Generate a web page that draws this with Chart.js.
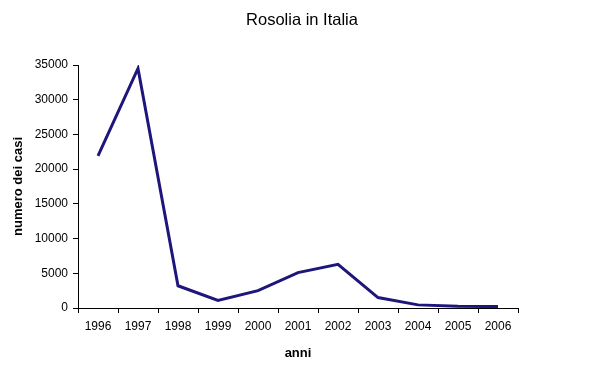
<!DOCTYPE html>
<html>
<head>
<meta charset="utf-8">
<style>
  html, body { margin: 0; padding: 0; background: #ffffff; }
  #wrap { width: 604px; height: 384px; }
</style>
<script src="https://cdn.jsdelivr.net/npm/chart.js@4/dist/chart.umd.min.js"></script>
</head>
<body>
<div id="wrap"><canvas id="c" width="604" height="384"></canvas></div>
<script>
const categories = ['1996','1997','1998','1999','2000','2001','2002','2003','2004','2005','2006'];
const casi = [21900, 34500, 3200, 1100, 2500, 5100, 6300, 1500, 450, 250, 200];
const yTicks = [0, 5000, 10000, 15000, 20000, 25000, 30000, 35000];

const FONT = '"Liberation Sans", Arial, Helvetica, sans-serif';

new Chart(document.getElementById('c'), {
  type: 'line',
  data: {
    labels: categories,
    datasets: [{
      label: 'casi',
      data: casi,
      borderColor: '#1f167c',
      borderWidth: 3,
      pointRadius: 0,
      tension: 0,
      fill: false
    }]
  },
  options: {
    responsive: false,
    animation: false,
    layout: { padding: 0 },
    plugins: {
      legend: { display: false },
      tooltip: { enabled: false },
      title: {
        display: true,
        text: 'Rosolia in Italia',
        color: '#000',
        font: { family: FONT, size: 16.5, weight: 'normal', lineHeight: 1.2 },
        padding: { top: 11, bottom: 34.2 }
      }
    },
    scales: {
      x: {
        type: 'category',
        offset: true,
        grid: {
          display: true,
          offset: true,
          drawOnChartArea: false,
          drawTicks: true,
          tickLength: 5,
          color: '#000'
        },
        border: { display: true, color: '#000', width: 1 },
        ticks: {
          color: '#000',
          font: { family: FONT, size: 12 },
          padding: 6,
          maxRotation: 0,
          autoSkip: false
        },
        title: {
          display: true,
          text: 'anni',
          color: '#000',
          font: { family: FONT, size: 13, weight: 'bold', lineHeight: 1.2 },
          padding: { top: 0, bottom: 23 }
        },
        afterFit: (s) => { s.height = 76; }
      },
      y: {
        min: 0,
        max: 35000,
        afterBuildTicks: (s) => { s.ticks = yTicks.map(v => ({ value: v })); },
        grid: {
          display: true,
          drawOnChartArea: false,
          drawTicks: true,
          tickLength: 5,
          color: '#000'
        },
        border: { display: true, color: '#000', width: 1 },
        ticks: {
          color: '#000',
          font: { family: FONT, size: 12 },
          padding: 5,
          callback: (v) => String(v)
        },
        title: {
          display: true,
          text: 'numero dei casi',
          color: '#000',
          font: { family: FONT, size: 13, weight: 'bold', lineHeight: 1.2 },
          padding: { top: 11, bottom: 0 }
        },
        afterFit: (s) => { s.width = 78; }
      },
      yRight: {
        position: 'right',
        display: true,
        grid: { display: false },
        border: { display: false },
        ticks: { display: false },
        afterFit: (s) => { s.width = 86; }
      }
    }
  }
});
</script>
</body>
</html>
